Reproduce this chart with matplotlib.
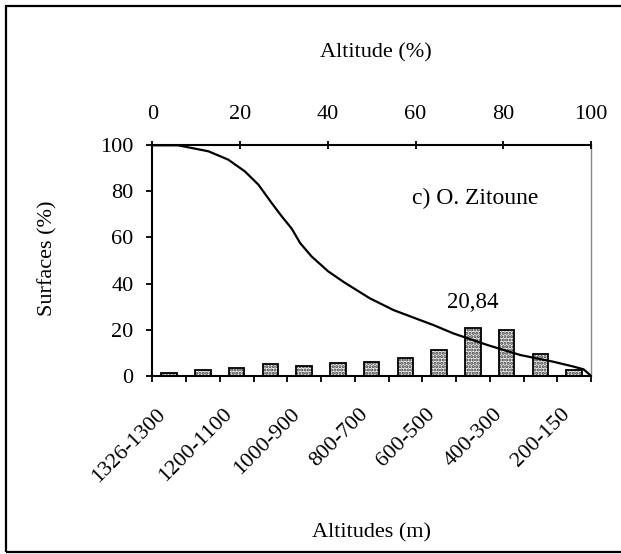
"""
Hypsometric curve + surface distribution by altitude band (O. Zitoune).
"""

import matplotlib
matplotlib.use('Agg')
import matplotlib.pyplot as plt
from matplotlib.patches import Rectangle
from matplotlib.transforms import ScaledTranslation

# Altitude bands (m) and share of the basin surface in each band (%)
categories = ['1326-1300', '1300-1200', '1200-1100', '1100-1000', '1000-900',
              '900-800', '800-700', '700-600', '600-500', '500-400',
              '400-300', '300-200', '200-150']
surface_pct = [1.0, 2.6, 3.5, 5.2, 4.3, 5.4, 6.1, 7.8, 11.2, 20.84, 19.9, 9.3, 2.7]

# Hypsometric curve: relative altitude (%) vs cumulated surface (%)
curve_x = [0, 5.9, 12.8, 17.3, 21.1, 24.2, 27.2, 29.5, 31.8, 33.7, 36.3, 40.1,
           43.7, 49.6, 55.0, 61.0, 64.1, 68.6, 76.3, 83.9, 91.4, 96.0, 98.3, 100]
curve_y = [100, 100, 97.4, 93.8, 88.7, 82.9, 75.0, 69.2, 63.8, 57.6, 51.8, 45.3,
           40.6, 33.6, 28.5, 24.2, 22.0, 18.4, 13.4, 9.0, 6.1, 4.0, 2.8, 0]

top_ticks = [0, 20, 40, 60, 80, 100]
y_ticks = [0, 20, 40, 60, 80, 100]
peak_label = '20,84'
basin_name = 'c) O. Zitoune'

plt.rcParams['font.family'] = ['Liberation Serif', 'DejaVu Serif']
plt.rcParams['font.size'] = 16
plt.rcParams['hatch.linewidth'] = 1.5

FS = 16

fig = plt.figure(figsize=(6.21, 5.54), dpi=100)
ax = fig.add_axes([0.2452, 0.3217, 0.7065, 0.4160])

# bars, centred in each band
n = len(categories)
xs = [i + 0.5 for i in range(n)]
ax.bar(xs, surface_pct, width=0.46, color='#f2f2f2', edgecolor='#333333',
       linewidth=0, hatch='.....', zorder=2)
ax.bar(xs, surface_pct, width=0.46, fill=False, edgecolor='black',
       linewidth=1.3, zorder=3)

ax.set_xlim(0, n)
ax.set_ylim(0, 100)
ax.set_yticks(y_ticks)

# band boundaries as major ticks, labels on every other band centre
ax.set_xticks(range(n + 1))
ax.set_xticklabels([])
ax.set_xticks(xs, minor=True)
ax.set_xticklabels([c if i % 2 == 0 else '' for i, c in enumerate(categories)],
                   minor=True, rotation=45, ha='right', va='top', fontsize=FS)
offset = ScaledTranslation(-12 / 100, 0, fig.dpi_scale_trans)
for lbl in ax.get_xticklabels(minor=True):
    lbl.set_transform(lbl.get_transform() + offset)
ax.tick_params(axis='x', which='major', direction='out', length=4.5, width=1.3)
ax.tick_params(axis='x', which='minor', length=0, pad=21)
ax.tick_params(axis='y', direction='out', length=4.5, width=1.3, pad=9, labelsize=FS)

for side in ['left', 'bottom']:
    ax.spines[side].set_linewidth(1.5)
    ax.spines[side].set_color('black')
ax.spines['top'].set_visible(False)
ax.spines['right'].set_color('#888888')
ax.spines['right'].set_linewidth(1.0)

ax.text(xs[9], 31.6, peak_label, ha='center', va='center', fontsize=16.5)

# hypsometric curve on the top axis
ax2 = ax.twiny()
ax2.plot(curve_x, curve_y, color='black', linewidth=1.6, zorder=4)
ax2.set_xlim(0, 100)
ax2.set_xticks(top_ticks)
ax2.tick_params(axis='x', direction='inout', length=6, width=1.3, pad=12, labelsize=FS)
ax2.spines['top'].set_linewidth(1.5)
ax2.spines['right'].set_visible(False)
ax2.spines['left'].set_visible(False)
ax2.spines['bottom'].set_visible(False)
ax2.text(73.6, 76.8, basin_name, ha='center', va='center', fontsize=17)

ax.set_ylabel('Surfaces (%)', fontsize=FS)
ax.yaxis.set_label_coords(-0.217, 0.51)

fig.text(376 / 621, 1 - 53 / 554, 'Altitude (%)', ha='center', va='center', fontsize=FS)
fig.text(372 / 621, 1 - 533 / 554, 'Altitudes (m)', ha='center', va='center', fontsize=FS)

# outer frame (right edge falls outside the picture)
fig.add_artist(Rectangle((6 / 621, 2 / 554), 1.0, 1 - 8 / 554, fill=False,
                         edgecolor='black', linewidth=1.6,
                         transform=fig.transFigure, clip_on=False))

fig.savefig('out.png', dpi=100, facecolor='white')
